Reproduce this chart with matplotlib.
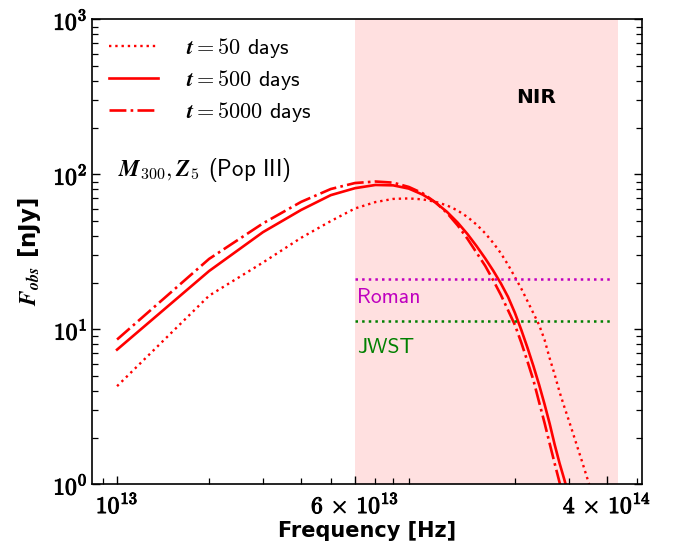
import numpy as np
import matplotlib
matplotlib.use("Agg")
import matplotlib.pyplot as plt
import matplotlib.patheffects as pe
from matplotlib.ticker import FixedLocator, FixedFormatter, LogLocator, NullFormatter

plt.rcParams['mathtext.fontset'] = 'cm'
plt.rcParams['font.family'] = ['DejaVu Sans']

# model grid: nu = k * 1e13 Hz
nu_unit = 1e13

# F_obs [nJy], 50 days
f_50d = [4.3, 16.5, 27.0, 39.0, 50.0, 60.3, 66.3, 69.5, 70.0, 69.0,
         66.6, 63.1, 58.5, 53.1, 47.4, 41.7, 36.1, 31.0, 26.1, 21.8,
         18.3, 15.2, 12.7, 10.7, 8.6, 6.5, 5.1, 3.95, 3.18, 2.6,
         2.13, 1.75, 1.45, 1.2, 1.0, 0.85]
# 500 days
f_500d = [7.4, 23.8, 42.4, 59.0, 73.5, 81.5, 85.5, 85.0, 81.0, 74.0,
          65.9, 57.3, 48.9, 41.2, 34.4, 28.7, 23.9, 19.8, 16.2, 12.8,
          9.9, 7.6, 5.8, 4.4, 3.3, 2.46, 1.8, 1.37, 1.08, 0.85]
# 5000 days
f_5000d = [8.6, 28.5, 48.3, 66.5, 80.5, 88.0, 90.0, 88.5, 83.0, 75.5,
           66.0, 56.4, 46.9, 38.4, 31.2, 25.7, 20.7, 16.7, 13.3, 10.7,
           8.2, 6.2, 4.7, 3.4, 2.5, 1.83, 1.36, 1.03, 0.79]

# NIR band and survey sensitivities
nir_band = (6e13, 4.35e14)
roman_limit = 21.0
jwst_limit = 11.3
limit_span = (6e13, 4.2e14)

xticks = [1e13, 6e13, 4e14]
xticklabels = [r'$\mathbf{10^{13}}$', r'$\mathbf{6\,\times\,10^{13}}$', r'$\mathbf{4\,\times\,10^{14}}$']
yticks = [1, 10, 100, 1000]
yticklabels = [r'$\mathbf{10^{0}}$', r'$\mathbf{10^{1}}$', r'$\mathbf{10^{2}}$', r'$\mathbf{10^{3}}$']

# thicken the computer-modern glyphs a little
heavy = [pe.withStroke(linewidth=0.7, foreground='black')]


def grid(vals):
    return nu_unit * np.arange(1, len(vals) + 1)


fig = plt.figure(figsize=(6.91, 5.44), dpi=100)
ax = fig.add_axes([0.1336, 0.1097, 0.7951, 0.8545])

ax.axvspan(*nir_band, color='red', alpha=0.12, lw=0)

ax.plot(grid(f_50d), f_50d, color='red', ls=':', lw=1.7, label=r'$\boldsymbol{t} = \mathbf{50}$ days')
ax.plot(grid(f_500d), f_500d, color='red', ls='-', lw=1.9, label=r'$\boldsymbol{t} = \mathbf{500}$ days')
ax.plot(grid(f_5000d), f_5000d, color='red', ls='-.', lw=1.9, label=r'$\boldsymbol{t} = \mathbf{5000}$ days')

ax.hlines(roman_limit, *limit_span, colors='m', linestyles=':', lw=1.8)
ax.hlines(jwst_limit, *limit_span, colors='g', linestyles=':', lw=1.8)
ax.text(6.1e13, 16.0, 'Roman', color='m', fontsize=15.5, family='cmss10', va='center')
ax.text(6.1e13, 7.6, 'JWST', color='g', fontsize=15.5, family='cmss10', va='center')

ax.text(0.808, 0.833, 'NIR', transform=ax.transAxes, fontsize=14.5,
        fontweight='bold', ha='center', va='center')
ax.text(0.047, 0.676, r'$\boldsymbol{M}_{\mathbf{300}}, \boldsymbol{Z}_{\mathbf{5}}$ (Pop III)',
        transform=ax.transAxes, fontsize=16.5, family='cmss10', va='center')

ax.set_xscale('log')
ax.set_yscale('log')
ax.set_xlim(8.3e12, 5.2e14)
ax.set_ylim(1, 1000)

ax.xaxis.set_major_locator(FixedLocator(xticks))
ax.xaxis.set_major_formatter(FixedFormatter(xticklabels))
ax.xaxis.set_minor_locator(LogLocator(base=10, subs=np.arange(2, 10), numticks=20))
ax.xaxis.set_minor_formatter(NullFormatter())
ax.yaxis.set_major_locator(FixedLocator(yticks))
ax.yaxis.set_major_formatter(FixedFormatter(yticklabels))
ax.yaxis.set_minor_locator(LogLocator(base=10, subs=np.arange(2, 10), numticks=20))
ax.yaxis.set_minor_formatter(NullFormatter())

ax.tick_params(which='both', direction='in', right=True, top=False, labelsize=17)
ax.tick_params(which='major', length=6, width=1)
ax.tick_params(which='minor', length=4.5, width=0.9)
ax.tick_params(axis='x', pad=6)
for s in ax.spines.values():
    s.set_linewidth(1.2)
for lab in ax.get_xticklabels() + ax.get_yticklabels():
    lab.set_path_effects(heavy)

ax.set_xlabel('Frequency [Hz]', fontsize=15, fontweight='bold', labelpad=2)
ax.set_ylabel(r'$\boldsymbol{F}_{\boldsymbol{obs}}$ [nJy]', fontsize=16.5, fontweight='bold', labelpad=7)

leg = ax.legend(loc='upper left', frameon=False, handlelength=2.2, handletextpad=1.25,
                borderaxespad=0.35, labelspacing=0.35, prop={'family': 'cmss10', 'size': 16})

fig.savefig('out.png', dpi=100)
